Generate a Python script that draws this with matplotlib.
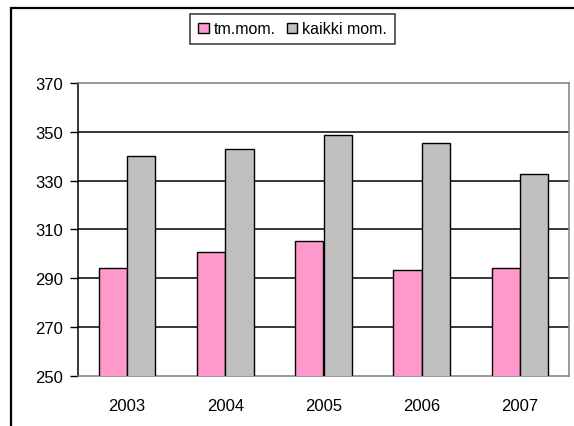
import numpy as np
import matplotlib.pyplot as plt
from matplotlib.patches import Rectangle

years = ["2003", "2004", "2005", "2006", "2007"]
tm_mom = [294, 300.6, 305.2, 293.5, 294.3]
kaikki_mom = [340, 342.9, 348.5, 345.4, 332.8]

plt.rcParams['font.family'] = ['Liberation Sans', 'DejaVu Sans']

fig = plt.figure(figsize=(5.74, 4.27), dpi=100)
ax = fig.add_axes([78 / 574, 1 - 376.7 / 427, (569 - 78) / 574, (376.7 - 84) / 427])

x = np.arange(len(years))
w = 0.289
ax.bar(x - w / 2, tm_mom, w, color="#FF99CC", edgecolor="black",
       linewidth=1, label="tm.mom.", zorder=3)
ax.bar(x + w / 2, kaikki_mom, w, color="#C0C0C0", edgecolor="black",
       linewidth=1, label="kaikki mom.", zorder=3)

ax.set_xlim(-0.5, 4.5)
ax.set_ylim(250, 370)
ax.set_yticks(np.arange(250, 371, 20))
ax.set_xticks(x)
ax.set_xticklabels(years)
ax.tick_params(axis="x", length=0, pad=16, labelsize=12)
ax.tick_params(axis="y", length=5.5, width=1, pad=5, labelsize=12)

for v in range(270, 360, 20):
    ax.axhline(v, color="black", linewidth=1.1, zorder=1)

ax.spines["left"].set_color("black")
ax.spines["left"].set_linewidth(1.1)
for s in ["top", "right", "bottom"]:
    ax.spines[s].set_color("#808080")
    ax.spines[s].set_linewidth(1.1)

leg = fig.legend(loc="center", bbox_to_anchor=(292.5 / 574, 1 - 30 / 427), ncol=2,
                 frameon=True, fancybox=False, fontsize=11.5, handlelength=0.65,
                 handleheight=0.65, handletextpad=0.3, columnspacing=0.7,
                 borderpad=0.5, borderaxespad=0, edgecolor="black")
leg.get_frame().set_linewidth(1.1)

# outer chart border, running off the right and bottom edges
fig.patches.append(Rectangle((11 / 574, -0.1), 1.2, 1 - 9 / 427 + 0.1,
                             transform=fig.transFigure, fill=False,
                             edgecolor="black", linewidth=1.6))

fig.savefig("out.png", dpi=100)
